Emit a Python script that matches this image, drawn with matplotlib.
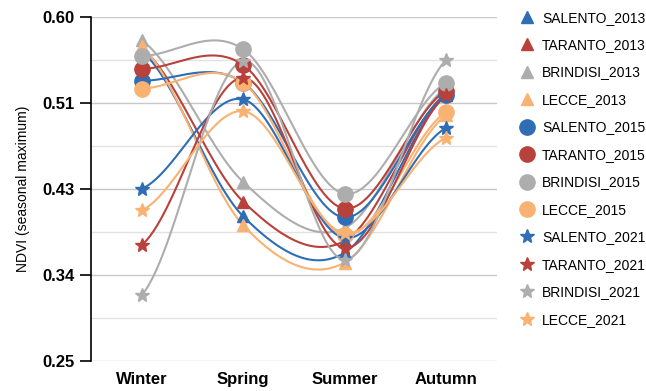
import numpy as np
import matplotlib
matplotlib.use("Agg")
import matplotlib.pyplot as plt
from matplotlib.lines import Line2D

plt.rcParams['font.family'] = ['Liberation Sans', 'DejaVu Sans']

seasons = ["Winter", "Spring", "Summer", "Autumn"]

# seasonal maximum NDVI per area and year
salento_2013 = [0.565, 0.397, 0.360, 0.520]
taranto_2013 = [0.568, 0.412, 0.372, 0.522]
brindisi_2013 = [0.576, 0.432, 0.385, 0.528]
lecce_2013 = [0.570, 0.388, 0.350, 0.500]
salento_2015 = [0.535, 0.533, 0.396, 0.520]
taranto_2015 = [0.547, 0.551, 0.405, 0.525]
brindisi_2015 = [0.560, 0.567, 0.420, 0.533]
lecce_2015 = [0.527, 0.533, 0.378, 0.503]
salento_2021 = [0.425, 0.516, 0.375, 0.487]
taranto_2021 = [0.368, 0.538, 0.365, 0.520]
brindisi_2021 = [0.317, 0.555, 0.353, 0.556]
lecce_2021 = [0.403, 0.504, 0.380, 0.477]

yticks = [0.25, 0.3375, 0.425, 0.5125, 0.60]
ytick_labels = ["0.25", "0.34", "0.43", "0.51", "0.60"]

blue = '#2F6DB5'
red = '#B8413B'
gray = '#ADADAD'
orange = '#F9B271'

series = [
    ("SALENTO_2013", salento_2013, blue, '^', 8),
    ("TARANTO_2013", taranto_2013, red, '^', 8),
    ("BRINDISI_2013", brindisi_2013, gray, '^', 8),
    ("LECCE_2013", lecce_2013, orange, '^', 8),
    ("SALENTO_2015", salento_2015, blue, 'o', 11),
    ("TARANTO_2015", taranto_2015, red, 'o', 11),
    ("BRINDISI_2015", brindisi_2015, gray, 'o', 11),
    ("LECCE_2015", lecce_2015, orange, 'o', 11),
    ("SALENTO_2021", salento_2021, blue, '*', 10),
    ("TARANTO_2021", taranto_2021, red, '*', 10),
    ("BRINDISI_2021", brindisi_2021, gray, '*', 10),
    ("LECCE_2021", lecce_2021, orange, '*', 10),
]


def smooth(y, n=60):
    # Catmull-Rom style smoothing between evenly spaced points
    y = np.asarray(y, dtype=float)
    x = np.arange(len(y), dtype=float)
    yp = np.concatenate([[y[0]], y, [y[-1]]])
    xs, ys = [], []
    t = np.linspace(0, 1, n)
    h00 = 2 * t**3 - 3 * t**2 + 1
    h10 = t**3 - 2 * t**2 + t
    h01 = -2 * t**3 + 3 * t**2
    h11 = t**3 - t**2
    for i in range(len(y) - 1):
        m0 = (yp[i + 2] - yp[i]) / 2
        m1 = (yp[i + 3] - yp[i + 1]) / 2
        xs.append(x[i] + t)
        ys.append(h00 * y[i] + h10 * m0 + h01 * y[i + 1] + h11 * m1)
    return np.concatenate(xs), np.concatenate(ys)


fig = plt.figure(figsize=(6.46, 3.91), dpi=100)
ax = fig.add_axes([0.141, 0.077, 0.628, 0.880])

handles = []
for name, vals, col, mk, ms in series:
    sx, sy = smooth(vals)
    ax.plot(sx, sy, color=col, lw=1.5, zorder=3)
    ax.plot(range(len(vals)), vals, ls='none', marker=mk, ms=ms, color=col,
            markeredgecolor=col, zorder=4)
    handles.append(Line2D([], [], ls='none', marker=mk, ms=ms, color=col, label=name))

ax.set_xlim(-0.5, 3.5)
ax.set_ylim(0.25, 0.60)
ax.set_yticks(yticks)
ax.set_yticklabels(ytick_labels, fontsize=12, fontweight='bold')
ax.set_yticks([0.29375, 0.38125, 0.46875, 0.55625], minor=True)
ax.set_xticks(range(4))
ax.set_xticklabels(seasons, fontsize=12, fontweight='bold')
ax.tick_params(axis='x', length=0, pad=8)
ax.tick_params(axis='y', which='major', length=8, width=1.2, color='black', pad=4)
ax.tick_params(axis='y', which='minor', length=0)
ax.grid(axis='y', which='major', color='#C8C8C8', lw=1.0, zorder=0)
ax.grid(axis='y', which='minor', color='#E2E2E2', lw=1.0, zorder=0)
for s in ['top', 'right', 'bottom']:
    ax.spines[s].set_visible(False)
ax.spines['left'].set_color('black')
ax.spines['left'].set_linewidth(1.2)
ax.set_ylabel("NDVI (seasonal maximum)", fontsize=10, labelpad=9)

fig.legend(handles=handles, loc='upper left', bbox_to_anchor=(0.783, 1.005),
           frameon=False, fontsize=10, labelspacing=0.97, handletextpad=0.5,
           handlelength=1.2)

fig.savefig("out.png", dpi=100)
